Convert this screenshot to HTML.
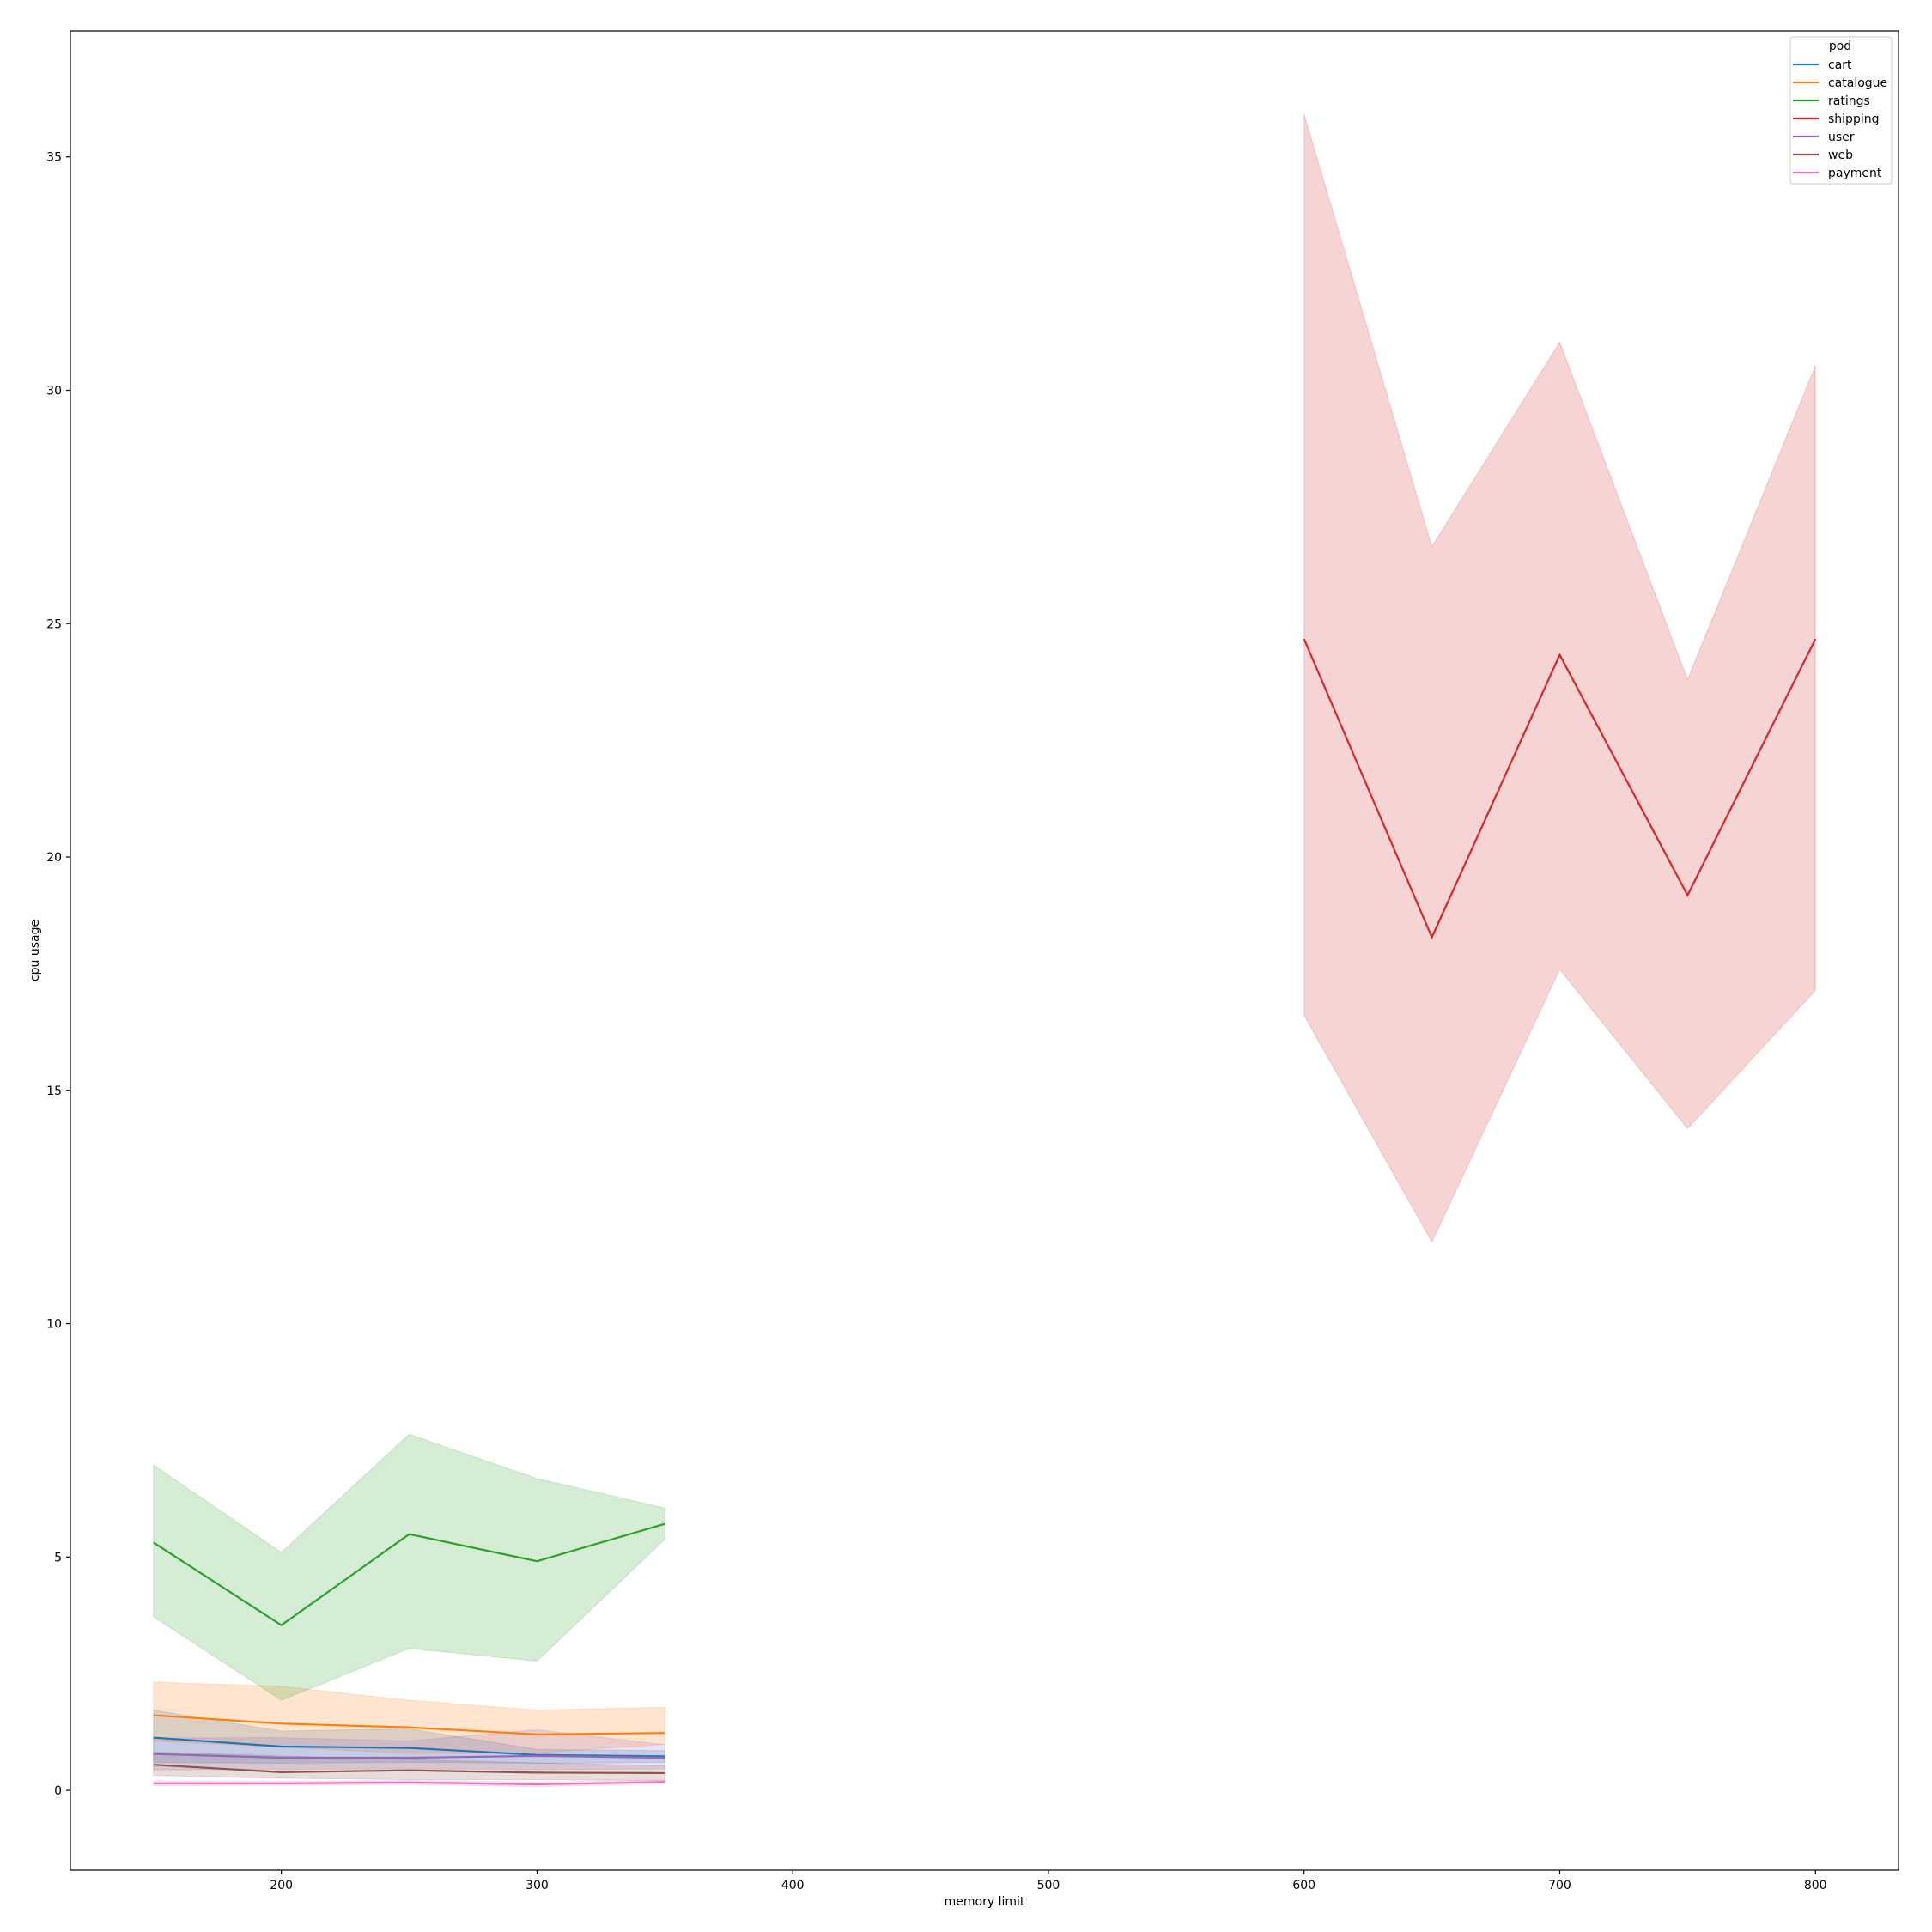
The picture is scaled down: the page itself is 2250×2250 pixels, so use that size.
<!DOCTYPE html>
<html><head><meta charset="utf-8"><style>
html,body{margin:0;padding:0;background:#fff}
svg{display:block;font-family:"DejaVu Sans","Liberation Sans",sans-serif}
</style></head><body>
<svg id="chart" width="2250" height="2250" viewBox="0 0 2250 2250">
<rect width="2250" height="2250" fill="#fff"/>
<g id="bands"></g><g id="lines"></g><g id="axes"></g><g id="legend"></g>
</svg>
<script>
const xs = [150,200,250,300,350];
const xsShip = [600,650,700,750,800];
const series = ["cart","catalogue","ratings","shipping","user","web","payment"];
const colors = ["#1f77b4","#ff7f0e","#2ca02c","#d62728","#9467bd","#8c564b","#e377c2"];
const cartMean=[1.13,0.94,0.91,0.76,0.73], cartLo=[0.6,0.58,0.6,0.58,0.6], cartHi=[1.72,1.27,1.32,0.88,0.85];
const catMean=[1.61,1.43,1.35,1.20,1.23], catLo=[1.06,0.93,0.79,0.80,0.99], catHi=[2.32,2.23,1.93,1.72,1.78];
const ratMean=[5.31,3.54,5.49,4.91,5.71], ratLo=[3.72,1.93,3.04,2.77,5.38], ratHi=[6.97,5.10,7.63,6.68,6.05];
const shipMean=[24.67,18.28,24.33,19.18,24.67], shipLo=[16.61,11.75,17.59,14.18,17.14], shipHi=[35.92,26.65,31.03,23.8,30.53];
const userMean=[0.78,0.70,0.70,0.74,0.70], userLo=[0.44,0.45,0.46,0.45,0.46], userHi=[1.12,1.13,1.06,1.30,0.98];
const webMean=[0.55,0.39,0.43,0.38,0.37], webLo=[0.32,0.26,0.23,0.23,0.21], webHi=[0.82,0.74,0.66,0.59,0.53];
const payMean=[0.15,0.15,0.17,0.13,0.18], payLo=[0.10,0.11,0.13,0.08,0.15], payHi=[0.20,0.20,0.21,0.18,0.22];
const xTicks=[200,300,400,500,600,700,800];
const yTicks=[0,5,10,15,20,25,30,35];

const L=82,R=2211,T=36,B=2178, X0=117.5,X1=832.5, Y0=-1.71,Y1=37.7;
const sx=v=>L+(v-X0)/(X1-X0)*(R-L);
const sy=v=>B-(v-Y0)/(Y1-Y0)*(B-T);
const NS="http://www.w3.org/2000/svg";
function mk(tag,attrs,parent){const e=document.createElementNS(NS,tag);for(const k in attrs)e.setAttribute(k,attrs[k]);parent.appendChild(e);return e;}
const data=[[xs,cartMean,cartLo,cartHi],[xs,catMean,catLo,catHi],[xs,ratMean,ratLo,ratHi],[xsShip,shipMean,shipLo,shipHi],[xs,userMean,userLo,userHi],[xs,webMean,webLo,webHi],[xs,payMean,payLo,payHi]];
const gb=document.getElementById('bands'),gl=document.getElementById('lines'),ga=document.getElementById('axes'),gleg=document.getElementById('legend');
data.forEach((d,i)=>{
 const [x,m,lo,hi]=d;
 let pts=x.map((v,j)=>sx(v)+','+sy(hi[j])).concat(x.map((v,j)=>sx(v)+','+sy(lo[j])).reverse()).join(' ');
 const p=mk('polygon',{points:pts,fill:colors[i],'fill-opacity':0.2,stroke:colors[i],'stroke-opacity':0.2},gb);
 
 
 const l=mk('polyline',{points:x.map((v,j)=>sx(v)+','+sy(m[j])).join(' '),fill:'none',stroke:colors[i],'stroke-width':2.2},gl);
 
 
});
const fr=mk('rect',{x:L,y:T,width:R-L,height:B-T,fill:'none',stroke:'#000','stroke-width':1.2},ga);


xTicks.forEach(t=>{
 mk('line',{x1:sx(t),x2:sx(t),y1:B,y2:B+5,stroke:'#000','stroke-width':1.2},ga);
 const tx=mk('text',{x:sx(t),y:B+22,'text-anchor':'middle','font-size':14},ga);tx.textContent=t;
 
 
});
yTicks.forEach(t=>{
 mk('line',{x1:L-5,x2:L,y1:sy(t),y2:sy(t),stroke:'#000','stroke-width':1.2},ga);
 const tx=mk('text',{x:L-10,y:sy(t)+5,'text-anchor':'end','font-size':14},ga);tx.textContent=t;
 
 
});
const xl=mk('text',{x:(L+R)/2,y:2219,'text-anchor':'middle','font-size':14},ga);xl.textContent='memory limit';


const yl=mk('text',{x:45,y:(T+B)/2,'text-anchor':'middle','font-size':14,transform:'rotate(-90 45 '+((T+B)/2)+')'},ga);yl.textContent='cpu usage';


const lb=mk('rect',{x:2085,y:43,width:118,height:171,rx:3,fill:'#fff','fill-opacity':0.8,stroke:'#ccc'},gleg);


const lt=mk('text',{x:2143,y:58,'text-anchor':'middle','font-size':14},gleg);lt.textContent='pod';


series.forEach((s,i)=>{
 const y=75+i*21;
 const g=mk('g',{},gleg);
 
 
 mk('line',{x1:2088,x2:2118,y1:y,y2:y,stroke:colors[i],'stroke-width':2.2},g);
 const t=mk('text',{x:2129,y:y+5,'font-size':14},g);t.textContent=s;
});
</script>
</body></html>
